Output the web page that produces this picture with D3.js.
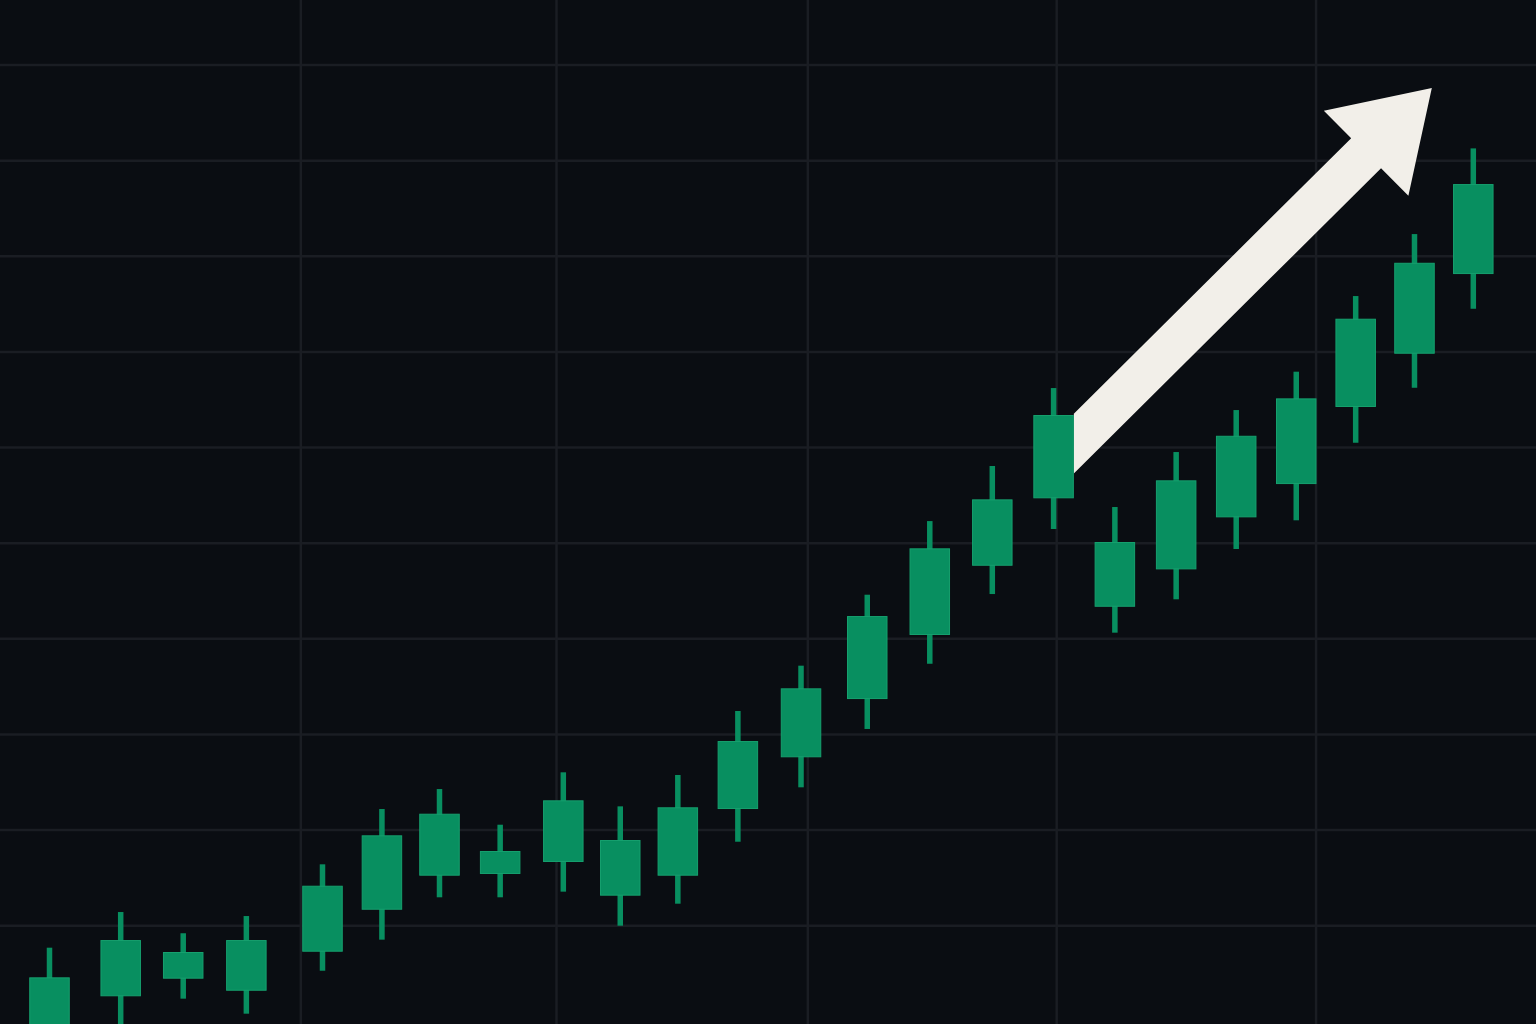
<!DOCTYPE html>
<html>
<head>
<meta charset="utf-8">
<script src="https://cdn.jsdelivr.net/npm/d3@7"></script>
<style>
  html, body { margin: 0; padding: 0; background: #0a0d12; overflow: hidden; }
  svg { display: block; }
</style>
</head>
<body>
<svg id="chart" width="1536" height="1024"></svg>
<script>
// ---- Data ----
// session position of each candle (irregular spacing)
const sessions = [0, 1.15, 2.16, 3.18, 4.41, 5.37, 6.30, 7.28, 8.30, 9.22, 10.15, 11.12,
                  12.14, 13.21, 14.22, 15.23, 16.22, 17.21, 18.20, 19.17, 20.14, 21.10, 22.05, 23.00];
const opens  = [88.5, 92.62, 94.46, 93.20, 97.28, 101.67, 105.23, 105.41, 106.66, 103.14, 105.23, 112.20,
                117.61, 123.70, 130.40, 137.64, 144.69, 133.35, 137.26, 142.70, 146.18, 154.24, 159.81, 168.14];
const highs  = [97.70, 101.43, 99.21, 101.01, 106.42, 112.20, 114.29, 110.56, 116.04, 112.48, 115.76, 122.45,
                127.19, 134.61, 142.31, 148.07, 156.22, 143.78, 149.53, 153.92, 157.93, 165.84, 172.32, 181.28];
const lows   = [86.0, 89.0, 92.37, 90.80, 95.29, 98.54, 102.97, 102.97, 103.56, 100.00, 102.30, 108.78,
                114.47, 120.57, 127.39, 134.68, 141.48, 130.64, 134.13, 139.39, 142.39, 150.50, 156.25, 164.51];
const closes = [94.60, 98.50, 97.25, 98.50, 104.18, 109.45, 111.71, 107.81, 113.11, 108.96, 112.38, 119.31,
                124.82, 132.38, 139.46, 144.58, 153.40, 140.12, 146.57, 151.23, 155.14, 163.47, 169.32, 177.55];

// grid lines
const priceGrid = [100, 110, 120, 130, 140, 150, 160, 170, 180, 190];
const sessionGrid = [4.06, 8.19, 12.25, 16.27, 20.46];

// trend arrow annotation: from candle 17 (index 16) to the tip
const arrowFromIndex = 16;
const arrowFromPrice = 150.42;
const arrowTo = { session: 22.33, price: 187.59 };

// ---- Layout / style ----
const W = 1536, H = 1024;
const bodyW = 40.5, wickW = 5.5;
const bg = "#0a0d12", gridColor = "#1a1d23";
const green = "#088f60", greenEdge = "#16a06e";
const arrowColor = "#f2efe9";

const x = d3.scaleLinear().domain([0, 23]).range([49.5, 1473.3]);
const y = d3.scaleLinear().domain([100, 190]).range([925.7, 65]);

const svg = d3.select("#chart");
svg.append("rect").attr("width", W).attr("height", H).attr("fill", bg);

// grid
const grid = svg.append("g");
grid.selectAll("line.h").data(priceGrid).join("line")
  .attr("class", "h")
  .attr("x1", 0).attr("x2", W)
  .attr("y1", d => y(d)).attr("y2", d => y(d))
  .attr("stroke", gridColor).attr("stroke-width", 2.5);
grid.selectAll("line.v").data(sessionGrid).join("line")
  .attr("class", "v")
  .attr("y1", 0).attr("y2", H)
  .attr("x1", d => x(d)).attr("x2", d => x(d))
  .attr("stroke", gridColor).attr("stroke-width", 2.5);

const candles = sessions.map((s, i) => ({
  s, o: opens[i], h: highs[i], l: lows[i], c: closes[i]
}));

// arrow
(function drawArrow() {
  const S = [x(sessions[arrowFromIndex]) + bodyW / 2, y(arrowFromPrice)];
  const T = [x(arrowTo.session), y(arrowTo.price)];
  const dx = T[0] - S[0], dy = T[1] - S[1];
  const len = Math.hypot(dx, dy);
  const u = [dx / len, dy / len];
  const n = [-u[1], u[0]];
  const headLen = 92.6, headHalf = 60, shaftHalf = 21.2;
  const B = [T[0] - u[0] * headLen, T[1] - u[1] * headLen];
  const pt = (P, k) => [P[0] + n[0] * k, P[1] + n[1] * k];
  const barbA = pt(B, headHalf), barbB = pt(B, -headHalf);
  const notchA = pt(B, shaftHalf), notchB = pt(B, -shaftHalf);
  const tailOf = N => { const s = (N[0] - S[0]) / u[0]; return [S[0], N[1] - u[1] * s]; };
  const tailA = tailOf(notchA), tailB = tailOf(notchB);
  const poly = [tailB, notchB, barbB, T, barbA, notchA, tailA];
  svg.append("polygon")
    .attr("points", poly.map(p => p.join(",")).join(" "))
    .attr("fill", arrowColor);
})();

// wicks
svg.append("g").selectAll("rect").data(candles).join("rect")
  .attr("x", d => x(d.s) - wickW / 2)
  .attr("width", wickW)
  .attr("y", d => y(d.h))
  .attr("height", d => y(d.l) - y(d.h))
  .attr("fill", green);

// bodies
svg.append("g").selectAll("rect").data(candles).join("rect")
  .attr("x", d => x(d.s) - bodyW / 2 + 0.5)
  .attr("width", bodyW - 1)
  .attr("y", d => y(Math.max(d.o, d.c)) + 0.5)
  .attr("height", d => Math.abs(y(d.o) - y(d.c)) - 1)
  .attr("fill", green)
  .attr("stroke", greenEdge)
  .attr("stroke-width", 1);
</script>
</body>
</html>
